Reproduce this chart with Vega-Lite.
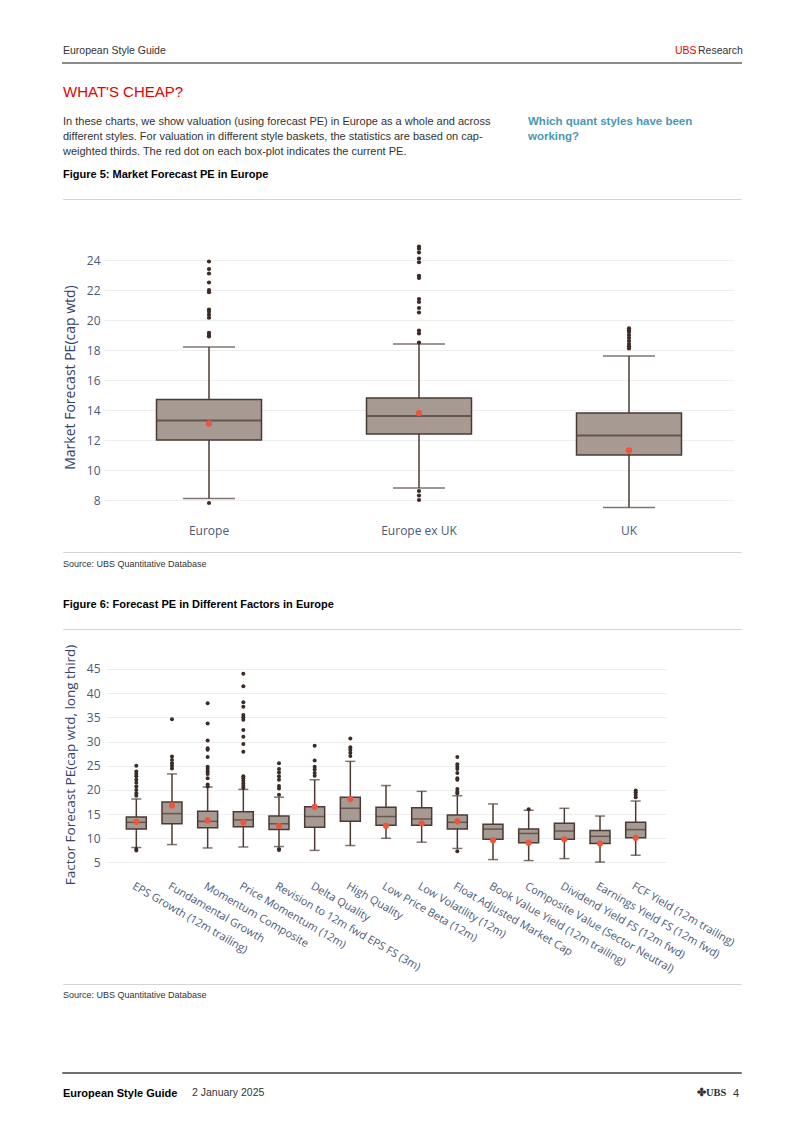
{
  "$schema": "https://vega.github.io/schema/vega-lite/v6.json",
  "padding": {"left": 62, "top": 0, "right": 0, "bottom": 0},
  "background": "white",
  "spacing": 0,
  "bounds": "flush",
  "config": {
    "view": {"stroke": null},
    "concat": {"spacing": 0},
    "title": {"orient": "bottom", "anchor": "start", "frame": "group", "offset": 0, "baseline": "top", "font": "Liberation Sans", "fontSize": 11, "fontWeight": "normal", "color": "#333333", "limit": 2000, "lineHeight": 15},
    "axis": {"labelFont": "Open Sans", "titleFont": "Open Sans", "domain": false, "ticks": false, "gridColor": "#eeeeee", "labelColor": "#4b5a78", "titleColor": "#34426a", "titleFontWeight": "normal", "labelOverlap": false}
  },
  "datasets": {
    "box5": [
      {"region": "Europe", "lower": 8.1, "q1": 12.0, "median": 13.3, "q3": 14.7, "upper": 18.2, "current": 13.1},
      {"region": "Europe ex UK", "lower": 8.8, "q1": 12.4, "median": 13.6, "q3": 14.8, "upper": 18.4, "current": 13.8},
      {"region": "UK", "lower": 7.5, "q1": 11.0, "median": 12.3, "q3": 13.8, "upper": 17.6, "current": 11.3}
    ],
    "out5": [
      {"region": "Europe", "value": 23.9}, {"region": "Europe", "value": 23.4}, {"region": "Europe", "value": 23.1}, {"region": "Europe", "value": 22.5}, {"region": "Europe", "value": 22.0}, {"region": "Europe", "value": 21.85}, {"region": "Europe", "value": 20.7}, {"region": "Europe", "value": 20.55}, {"region": "Europe", "value": 20.35}, {"region": "Europe", "value": 20.15}, {"region": "Europe", "value": 19.15}, {"region": "Europe", "value": 19.0}, {"region": "Europe", "value": 18.9}, {"region": "Europe", "value": 7.8},
      {"region": "Europe ex UK", "value": 24.9}, {"region": "Europe ex UK", "value": 24.75}, {"region": "Europe ex UK", "value": 24.5}, {"region": "Europe ex UK", "value": 24.1}, {"region": "Europe ex UK", "value": 23.85}, {"region": "Europe ex UK", "value": 22.95}, {"region": "Europe ex UK", "value": 22.8}, {"region": "Europe ex UK", "value": 21.4}, {"region": "Europe ex UK", "value": 21.2}, {"region": "Europe ex UK", "value": 20.8}, {"region": "Europe ex UK", "value": 20.5}, {"region": "Europe ex UK", "value": 19.3}, {"region": "Europe ex UK", "value": 19.1}, {"region": "Europe ex UK", "value": 18.5}, {"region": "Europe ex UK", "value": 8.6}, {"region": "Europe ex UK", "value": 8.3}, {"region": "Europe ex UK", "value": 8.0},
      {"region": "UK", "value": 19.45}, {"region": "UK", "value": 19.3}, {"region": "UK", "value": 19.2}, {"region": "UK", "value": 19.0}, {"region": "UK", "value": 18.8}, {"region": "UK", "value": 18.6}, {"region": "UK", "value": 18.4}, {"region": "UK", "value": 18.25}, {"region": "UK", "value": 18.1}
    ],
    "box6": [
      {"factor": "EPS Growth (12m trailing)", "lower": 8.1, "q1": 11.9, "median": 13.3, "q3": 14.4, "upper": 18.1, "current": 13.4},
      {"factor": "Fundamental Growth", "lower": 8.7, "q1": 13.0, "median": 15.1, "q3": 17.5, "upper": 23.3, "current": 16.8},
      {"factor": "Momentum Composite", "lower": 8.0, "q1": 12.2, "median": 13.5, "q3": 15.6, "upper": 20.6, "current": 13.7},
      {"factor": "Price Momentum (12m)", "lower": 8.2, "q1": 12.4, "median": 13.8, "q3": 15.5, "upper": 20.1, "current": 13.3},
      {"factor": "Revision to 12m fwd EPS FS (3m)", "lower": 8.3, "q1": 11.8, "median": 13.0, "q3": 14.6, "upper": 18.5, "current": 12.6},
      {"factor": "Delta Quality", "lower": 7.5, "q1": 12.3, "median": 14.5, "q3": 16.5, "upper": 22.1, "current": 16.5},
      {"factor": "High Quality", "lower": 8.5, "q1": 13.5, "median": 16.2, "q3": 18.5, "upper": 25.9, "current": 18.1},
      {"factor": "Low Price Beta (12m)", "lower": 10.0, "q1": 12.7, "median": 14.5, "q3": 16.4, "upper": 20.9, "current": 12.6},
      {"factor": "Low Volatility (12m)", "lower": 9.2, "q1": 12.7, "median": 14.0, "q3": 16.3, "upper": 19.7, "current": 13.1},
      {"factor": "Float Adjusted Market Cap", "lower": 7.9, "q1": 11.9, "median": 13.3, "q3": 14.8, "upper": 18.8, "current": 13.5},
      {"factor": "Book Value Yield (12m trailing)", "lower": 5.6, "q1": 9.8, "median": 11.9, "q3": 12.9, "upper": 17.1, "current": 9.6},
      {"factor": "Composite Value (Sector Neutral)", "lower": 5.4, "q1": 9.1, "median": 11.0, "q3": 11.9, "upper": 15.8, "current": 9.1},
      {"factor": "Dividend Yield FS (12m fwd)", "lower": 5.8, "q1": 9.8, "median": 11.5, "q3": 13.1, "upper": 16.2, "current": 9.8},
      {"factor": "Earnings Yield FS (12m fwd)", "lower": 5.1, "q1": 8.9, "median": 10.4, "q3": 11.6, "upper": 14.6, "current": 8.9},
      {"factor": "FCF Yield (12m trailing)", "lower": 6.5, "q1": 10.1, "median": 11.8, "q3": 13.3, "upper": 17.7, "current": 10.1}
    ],
    "out6": [
      {"factor": "EPS Growth (12m trailing)", "value": 25.0}, {"factor": "EPS Growth (12m trailing)", "value": 23.8}, {"factor": "EPS Growth (12m trailing)", "value": 23.3}, {"factor": "EPS Growth (12m trailing)", "value": 22.8}, {"factor": "EPS Growth (12m trailing)", "value": 22.1}, {"factor": "EPS Growth (12m trailing)", "value": 21.5}, {"factor": "EPS Growth (12m trailing)", "value": 20.7}, {"factor": "EPS Growth (12m trailing)", "value": 20.0}, {"factor": "EPS Growth (12m trailing)", "value": 19.3}, {"factor": "EPS Growth (12m trailing)", "value": 18.8}, {"factor": "EPS Growth (12m trailing)", "value": 7.8}, {"factor": "EPS Growth (12m trailing)", "value": 7.5},
      {"factor": "Fundamental Growth", "value": 34.6}, {"factor": "Fundamental Growth", "value": 26.9}, {"factor": "Fundamental Growth", "value": 26.2}, {"factor": "Fundamental Growth", "value": 25.5}, {"factor": "Fundamental Growth", "value": 25.0}, {"factor": "Fundamental Growth", "value": 24.4},
      {"factor": "Momentum Composite", "value": 37.9}, {"factor": "Momentum Composite", "value": 33.7}, {"factor": "Momentum Composite", "value": 30.2}, {"factor": "Momentum Composite", "value": 28.6}, {"factor": "Momentum Composite", "value": 28.3}, {"factor": "Momentum Composite", "value": 26.8}, {"factor": "Momentum Composite", "value": 24.8}, {"factor": "Momentum Composite", "value": 24.3}, {"factor": "Momentum Composite", "value": 23.8}, {"factor": "Momentum Composite", "value": 23.3}, {"factor": "Momentum Composite", "value": 22.4}, {"factor": "Momentum Composite", "value": 21.1}, {"factor": "Momentum Composite", "value": 20.7},
      {"factor": "Price Momentum (12m)", "value": 44.0}, {"factor": "Price Momentum (12m)", "value": 41.4}, {"factor": "Price Momentum (12m)", "value": 38.1}, {"factor": "Price Momentum (12m)", "value": 37.2}, {"factor": "Price Momentum (12m)", "value": 35.5}, {"factor": "Price Momentum (12m)", "value": 35.0}, {"factor": "Price Momentum (12m)", "value": 34.5}, {"factor": "Price Momentum (12m)", "value": 32.4}, {"factor": "Price Momentum (12m)", "value": 31.0}, {"factor": "Price Momentum (12m)", "value": 29.5}, {"factor": "Price Momentum (12m)", "value": 27.9}, {"factor": "Price Momentum (12m)", "value": 22.8}, {"factor": "Price Momentum (12m)", "value": 22.4}, {"factor": "Price Momentum (12m)", "value": 21.9}, {"factor": "Price Momentum (12m)", "value": 21.3}, {"factor": "Price Momentum (12m)", "value": 20.8}, {"factor": "Price Momentum (12m)", "value": 20.4},
      {"factor": "Revision to 12m fwd EPS FS (3m)", "value": 25.5}, {"factor": "Revision to 12m fwd EPS FS (3m)", "value": 24.3}, {"factor": "Revision to 12m fwd EPS FS (3m)", "value": 23.6}, {"factor": "Revision to 12m fwd EPS FS (3m)", "value": 22.8}, {"factor": "Revision to 12m fwd EPS FS (3m)", "value": 22.1}, {"factor": "Revision to 12m fwd EPS FS (3m)", "value": 20.8}, {"factor": "Revision to 12m fwd EPS FS (3m)", "value": 20.3}, {"factor": "Revision to 12m fwd EPS FS (3m)", "value": 19.0}, {"factor": "Revision to 12m fwd EPS FS (3m)", "value": 7.8}, {"factor": "Revision to 12m fwd EPS FS (3m)", "value": 7.6},
      {"factor": "Delta Quality", "value": 29.1}, {"factor": "Delta Quality", "value": 26.1}, {"factor": "Delta Quality", "value": 24.8}, {"factor": "Delta Quality", "value": 24.2}, {"factor": "Delta Quality", "value": 23.5}, {"factor": "Delta Quality", "value": 22.9},
      {"factor": "High Quality", "value": 30.6}, {"factor": "High Quality", "value": 28.8}, {"factor": "High Quality", "value": 28.3}, {"factor": "High Quality", "value": 27.7}, {"factor": "High Quality", "value": 27.0},
      {"factor": "Float Adjusted Market Cap", "value": 26.8}, {"factor": "Float Adjusted Market Cap", "value": 25.3}, {"factor": "Float Adjusted Market Cap", "value": 24.8}, {"factor": "Float Adjusted Market Cap", "value": 24.3}, {"factor": "Float Adjusted Market Cap", "value": 23.5}, {"factor": "Float Adjusted Market Cap", "value": 22.4}, {"factor": "Float Adjusted Market Cap", "value": 22.1}, {"factor": "Float Adjusted Market Cap", "value": 20.2}, {"factor": "Float Adjusted Market Cap", "value": 19.6}, {"factor": "Float Adjusted Market Cap", "value": 19.3}, {"factor": "Float Adjusted Market Cap", "value": 7.3},
      {"factor": "Composite Value (Sector Neutral)", "value": 16.0},
      {"factor": "FCF Yield (12m trailing)", "value": 19.9}, {"factor": "FCF Yield (12m trailing)", "value": 19.5}, {"factor": "FCF Yield (12m trailing)", "value": 19.0}, {"factor": "FCF Yield (12m trailing)", "value": 18.5}
    ]
  },
  "vconcat": [
    {"hconcat": [
      {"width": 612, "height": 42, "data": {"values": []}, "mark": "point", "title": {"text": "European Style Guide", "fontSize": 10.5}},
      {"width": 23, "height": 42, "data": {"values": []}, "mark": "point", "title": {"text": "UBS", "fontSize": 10.5, "color": "#e60000"}},
      {"width": 43, "height": 42, "data": {"values": []}, "mark": "point", "title": {"text": "Research", "fontSize": 10.5}}
    ], "spacing": 0, "bounds": "flush"},
    {"width": 678, "height": 63, "data": {"values": []}, "mark": "point"},
    {"width": 678, "height": 0.01, "data": {"values": []}, "mark": "point", "view": {"stroke": "#8c8c8c", "strokeWidth": 2}},
    {"width": 678, "height": 17, "data": {"values": []}, "mark": "point", "title": {"text": "WHAT'S CHEAP?", "fontSize": 15, "color": "#e60000"}},
    {"hconcat": [
      {"width": 465, "height": 31, "data": {"values": []}, "mark": "point", "title": {"text": ["In these charts, we show valuation (using forecast PE) in Europe as a whole and across", "different styles. For valuation in different style baskets, the statistics are based on cap-", "weighted thirds. The red dot on each box-plot indicates the current PE."], "fontSize": 11}},
      {"width": 213, "height": 31, "data": {"values": []}, "mark": "point", "title": {"text": ["Which quant styles have been", "working?"], "fontSize": 11.5, "fontWeight": "bold", "color": "#4a97b4"}}
    ], "spacing": 0, "bounds": "flush"},
    {"width": 678, "height": 84, "data": {"values": []}, "mark": "point", "title": {"text": "Figure 5: Market Forecast PE in Europe", "fontSize": 11, "fontWeight": "bold", "color": "#000000"}},
    {"width": 678, "height": 34, "data": {"values": []}, "mark": "point"},
    {"width": 678, "height": 0.01, "data": {"values": []}, "mark": "point", "view": {"stroke": "#d4d4d4", "strokeWidth": 1}},
    {"width": 678, "height": 39, "data": {"values": []}, "mark": "point"},
    {"hconcat": [
      {"width": 41, "height": 276, "data": {"values": []}, "mark": "point"},
      {
        "width": 630, "height": 276,
        "encoding": {"x": {"field": "region", "type": "nominal", "scale": {"domain": ["Europe", "Europe ex UK", "UK"], "paddingInner": 0, "paddingOuter": 0}, "axis": {"title": null, "labelAngle": 0, "labelPadding": 10, "labelFontSize": 12}}},
        "layer": [
          {"data": {"name": "box5"}, "mark": {"type": "rule", "color": "#4b3b34", "strokeWidth": 1.5}, "encoding": {"y": {"field": "lower", "type": "quantitative", "title": "Market Forecast PE(cap wtd)", "scale": {"domain": [7, 25.4], "nice": false, "zero": false}, "axis": {"values": [8, 10, 12, 14, 16, 18, 20, 22, 24], "labelPadding": 4, "labelFontSize": 12, "titleFontSize": 14, "titlePadding": 9}}, "y2": {"field": "upper"}}},
          {"data": {"name": "box5"}, "mark": {"type": "bar", "fill": "#a69a92", "stroke": "#4b3b34", "strokeWidth": 1.5, "width": {"band": 0.5}}, "encoding": {"y": {"field": "q1", "type": "quantitative", "title": "Market Forecast PE(cap wtd)", "axis": {"values": [8, 10, 12, 14, 16, 18, 20, 22, 24], "labelPadding": 4, "labelFontSize": 12, "titleFontSize": 14, "titlePadding": 9}}, "y2": {"field": "q3"}}},
          {"data": {"name": "box5"}, "mark": {"type": "tick", "color": "#4b3b34", "size": 105, "thickness": 2}, "encoding": {"y": {"field": "median", "type": "quantitative", "title": "Market Forecast PE(cap wtd)", "axis": {"values": [8, 10, 12, 14, 16, 18, 20, 22, 24], "labelPadding": 4, "labelFontSize": 12, "titleFontSize": 14, "titlePadding": 9}}}},
          {"data": {"name": "box5"}, "mark": {"type": "tick", "color": "#4b3b34", "size": 52, "thickness": 1.5}, "encoding": {"y": {"field": "lower", "type": "quantitative", "title": "Market Forecast PE(cap wtd)", "axis": {"values": [8, 10, 12, 14, 16, 18, 20, 22, 24], "labelPadding": 4, "labelFontSize": 12, "titleFontSize": 14, "titlePadding": 9}}}},
          {"data": {"name": "box5"}, "mark": {"type": "tick", "color": "#4b3b34", "size": 52, "thickness": 1.5}, "encoding": {"y": {"field": "upper", "type": "quantitative", "title": "Market Forecast PE(cap wtd)", "axis": {"values": [8, 10, 12, 14, 16, 18, 20, 22, 24], "labelPadding": 4, "labelFontSize": 12, "titleFontSize": 14, "titlePadding": 9}}}},
          {"data": {"name": "out5"}, "mark": {"type": "circle", "color": "#3b2c26", "size": 18, "opacity": 1}, "encoding": {"y": {"field": "value", "type": "quantitative", "title": "Market Forecast PE(cap wtd)", "axis": {"values": [8, 10, 12, 14, 16, 18, 20, 22, 24], "labelPadding": 4, "labelFontSize": 12, "titleFontSize": 14, "titlePadding": 9}}}},
          {"data": {"name": "box5"}, "mark": {"type": "circle", "color": "#ef553b", "size": 40, "opacity": 1}, "encoding": {"y": {"field": "current", "type": "quantitative", "title": "Market Forecast PE(cap wtd)", "axis": {"values": [8, 10, 12, 14, 16, 18, 20, 22, 24], "labelPadding": 4, "labelFontSize": 12, "titleFontSize": 14, "titlePadding": 9}}}}
        ]
      }
    ], "spacing": 0, "bounds": "flush"},
    {"width": 678, "height": 313, "data": {"values": []}, "mark": "point"},
    {"width": 678, "height": 0.01, "data": {"values": []}, "mark": "point", "view": {"stroke": "#d4d4d4", "strokeWidth": 1}, "title": {"text": "Source: UBS Quantitative Database", "fontSize": 9, "offset": 8}},
    {"width": 678, "height": 42, "data": {"values": []}, "mark": "point", "title": {"text": "Figure 6: Forecast PE in Different Factors in Europe", "fontSize": 11, "fontWeight": "bold", "color": "#000000"}},
    {"width": 678, "height": 34, "data": {"values": []}, "mark": "point"},
    {"width": 678, "height": 0.01, "data": {"values": []}, "mark": "point", "view": {"stroke": "#d4d4d4", "strokeWidth": 1}},
    {"width": 678, "height": 22, "data": {"values": []}, "mark": "point"},
    {"hconcat": [
      {"width": 43, "height": 225, "data": {"values": []}, "mark": "point"},
      {
        "width": 560, "height": 225,
        "encoding": {"x": {"field": "factor", "type": "nominal", "scale": {"domain": ["EPS Growth (12m trailing)", "Fundamental Growth", "Momentum Composite", "Price Momentum (12m)", "Revision to 12m fwd EPS FS (3m)", "Delta Quality", "High Quality", "Low Price Beta (12m)", "Low Volatility (12m)", "Float Adjusted Market Cap", "Book Value Yield (12m trailing)", "Composite Value (Sector Neutral)", "Dividend Yield FS (12m fwd)", "Earnings Yield FS (12m fwd)", "FCF Yield (12m trailing)"], "paddingInner": 0, "paddingOuter": 0.35}, "axis": {"title": null, "labelAngle": 30, "labelAlign": "left", "labelBaseline": "top", "labelPadding": 3, "labelFontSize": 11, "labelLimit": 400}}},
        "layer": [
          {"data": {"name": "box6"}, "mark": {"type": "rule", "color": "#4b3b34", "strokeWidth": 1.5}, "encoding": {"y": {"field": "lower", "type": "quantitative", "title": "Factor Forecast PE(cap wtd, long third)", "scale": {"domain": [2, 48.5], "nice": false, "zero": false}, "axis": {"values": [5, 10, 15, 20, 25, 30, 35, 40, 45], "labelPadding": 6, "labelFontSize": 12, "titleFontSize": 13.5, "titlePadding": 9}}, "y2": {"field": "upper"}}},
          {"data": {"name": "box6"}, "mark": {"type": "bar", "fill": "#a69a92", "stroke": "#4b3b34", "strokeWidth": 1.5, "width": {"band": 0.56}}, "encoding": {"y": {"field": "q1", "type": "quantitative", "title": "Factor Forecast PE(cap wtd, long third)", "axis": {"values": [5, 10, 15, 20, 25, 30, 35, 40, 45], "labelPadding": 6, "labelFontSize": 12, "titleFontSize": 13.5, "titlePadding": 9}}, "y2": {"field": "q3"}}},
          {"data": {"name": "box6"}, "mark": {"type": "tick", "color": "#4b3b34", "size": 20, "thickness": 1.5}, "encoding": {"y": {"field": "median", "type": "quantitative", "title": "Factor Forecast PE(cap wtd, long third)", "axis": {"values": [5, 10, 15, 20, 25, 30, 35, 40, 45], "labelPadding": 6, "labelFontSize": 12, "titleFontSize": 13.5, "titlePadding": 9}}}},
          {"data": {"name": "box6"}, "mark": {"type": "tick", "color": "#4b3b34", "size": 10, "thickness": 1.5}, "encoding": {"y": {"field": "lower", "type": "quantitative", "title": "Factor Forecast PE(cap wtd, long third)", "axis": {"values": [5, 10, 15, 20, 25, 30, 35, 40, 45], "labelPadding": 6, "labelFontSize": 12, "titleFontSize": 13.5, "titlePadding": 9}}}},
          {"data": {"name": "box6"}, "mark": {"type": "tick", "color": "#4b3b34", "size": 10, "thickness": 1.5}, "encoding": {"y": {"field": "upper", "type": "quantitative", "title": "Factor Forecast PE(cap wtd, long third)", "axis": {"values": [5, 10, 15, 20, 25, 30, 35, 40, 45], "labelPadding": 6, "labelFontSize": 12, "titleFontSize": 13.5, "titlePadding": 9}}}},
          {"data": {"name": "out6"}, "mark": {"type": "circle", "color": "#3b2c26", "size": 16, "opacity": 1}, "encoding": {"y": {"field": "value", "type": "quantitative", "title": "Factor Forecast PE(cap wtd, long third)", "axis": {"values": [5, 10, 15, 20, 25, 30, 35, 40, 45], "labelPadding": 6, "labelFontSize": 12, "titleFontSize": 13.5, "titlePadding": 9}}}},
          {"data": {"name": "box6"}, "mark": {"type": "circle", "color": "#ef553b", "size": 38, "opacity": 1}, "encoding": {"y": {"field": "current", "type": "quantitative", "title": "Factor Forecast PE(cap wtd, long third)", "axis": {"values": [5, 10, 15, 20, 25, 30, 35, 40, 45], "labelPadding": 6, "labelFontSize": 12, "titleFontSize": 13.5, "titlePadding": 9}}}}
        ]
      }
    ], "spacing": 0, "bounds": "flush"},
    {"width": 678, "height": 332, "data": {"values": []}, "mark": "point"},
    {"width": 678, "height": 0.01, "data": {"values": []}, "mark": "point", "view": {"stroke": "#d4d4d4", "strokeWidth": 1}, "title": {"text": "Source: UBS Quantitative Database", "fontSize": 9, "offset": 7}},
    {"width": 678, "height": 88, "data": {"values": []}, "mark": "point"},
    {"width": 678, "height": 0.01, "data": {"values": []}, "mark": "point", "view": {"stroke": "#404040", "strokeWidth": 1.5}},
    {"hconcat": [
      {"width": 129, "height": 10, "data": {"values": []}, "mark": "point", "title": {"text": "European Style Guide", "fontSize": 11, "fontWeight": "bold", "color": "#000000"}},
      {"width": 505, "height": 10, "data": {"values": []}, "mark": "point", "title": {"text": "2 January 2025", "fontSize": 10.5}},
      {"width": 36, "height": 10, "data": {"values": []}, "mark": "point", "title": {"text": "✤UBS", "font": "Liberation Serif", "fontSize": 10.5, "fontWeight": "bold", "color": "#333333"}},
      {"width": 8, "height": 10, "data": {"values": []}, "mark": "point", "title": {"text": "4", "fontSize": 11}}
    ], "spacing": 0, "bounds": "flush"}
  ]
}
